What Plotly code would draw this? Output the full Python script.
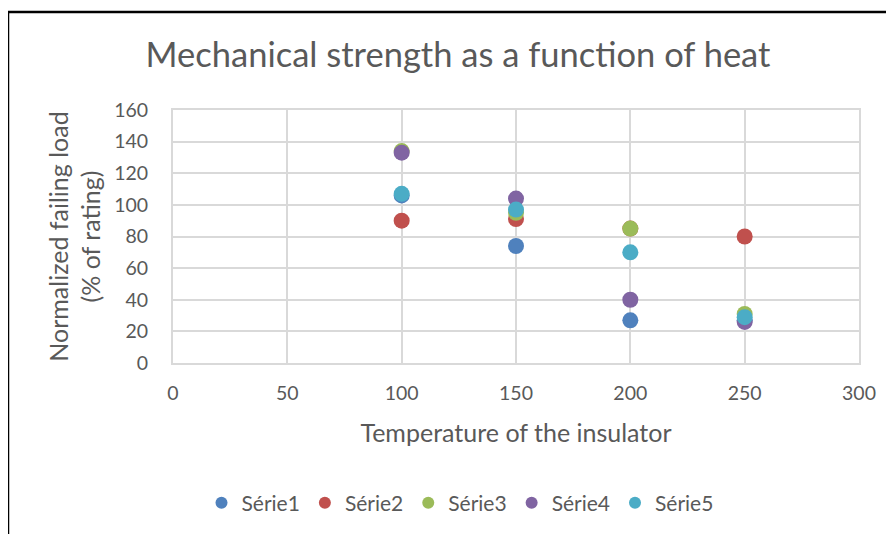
import plotly.graph_objects as go

temperatures = [100, 150, 200, 250]
serie1 = [106, 74, 27, 27]
serie2 = [90, 91, 85, 80]
serie3 = [134, 95, 85, 31]
serie4 = [133, 104, 40, 26]
serie5 = [107, 97, 70, 29]
series_names = ["Série1", "Série2", "Série3", "Série4", "Série5"]
series_values = [serie1, serie2, serie3, serie4, serie5]
colors = ["#4F81BD", "#C0504D", "#9BBB59", "#8064A2", "#4BACC6"]
x_ticks = [0, 50, 100, 150, 200, 250, 300]
y_ticks = [0, 20, 40, 60, 80, 100, 120, 140, 160]

FONT = "Lato, Open Sans, sans-serif"
TXT = "#595959"

fig = go.Figure()
for name, vals, col in zip(series_names, series_values, colors):
    fig.add_trace(go.Scatter(x=temperatures, y=vals, mode="markers", name=name,
                             marker=dict(size=16, color=col)))

# page body has an 8px margin, so figure coords = screen coords - 8
W, H = 894, 534
L, T = 165, 102
pw, ph = 686, 253
R, B = W - L - pw, H - T - ph

def px(xp):
    return (xp - L) / pw

def py(yp):
    return (T + ph - yp) / ph

fig.update_layout(
    width=W, height=H,
    margin=dict(l=L, r=R, t=T, b=B),
    paper_bgcolor="white", plot_bgcolor="white",
    font=dict(family=FONT, color=TXT, size=19),
    title=dict(text="Mechanical strength as a function of heat", x=450 / W, xanchor="center",
               y=1 - 47 / H, yanchor="middle", font=dict(size=34.5, color=TXT, family=FONT)),
    xaxis=dict(range=[0, 300], tickvals=x_ticks, showgrid=True, gridcolor="#d9d9d9", gridwidth=2,
               zeroline=False, showline=True, linecolor="#d9d9d9", linewidth=2, mirror=True,
               ticks="", ticklabelstandoff=12, tickfont=dict(size=19.5, color=TXT),
               title=dict(text="Temperature of the insulator", standoff=21,
                          font=dict(size=25, color=TXT))),
    yaxis=dict(range=[0, 160], tickvals=y_ticks, showgrid=True, gridcolor="#d9d9d9", gridwidth=2,
               zeroline=False, showline=True, linecolor="#d9d9d9", linewidth=2, mirror=True,
               ticks="", ticklabelstandoff=19, tickfont=dict(size=19.5, color=TXT),
               title=dict(text="Normalized failing load<br>(% of rating)", standoff=6,
                          font=dict(size=25, color=TXT))),
    legend=dict(orientation="h", x=px(452), xanchor="center",
                y=py(495), yanchor="middle", font=dict(size=21, color=TXT),
                itemsizing="constant", itemwidth=30, tracegroupgap=0),
    showlegend=True,
)

fig.add_shape(type="rect", xref="paper", yref="paper",
              x0=px(0), x1=px(885), y0=py(4), y1=py(560),
              line=dict(color="black", width=2.5), fillcolor="rgba(0,0,0,0)", layer="above")

fig.write_html("out.html")
